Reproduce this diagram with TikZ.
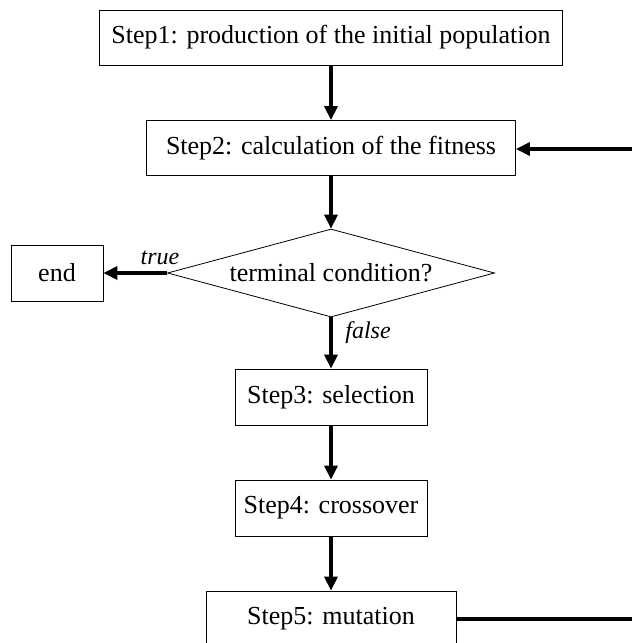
\documentclass[tikz,border=0pt]{standalone}
\usepackage{fontspec}
\setmainfont{Liberation Serif}
\usetikzlibrary{arrows.meta,shapes.geometric}

\tikzset{
  stepbox/.style={draw, line width=0.8pt, rectangle, inner sep=0pt,
    minimum height=55pt, font=\fontsize{26}{30}\selectfont},
  decision/.style={draw, line width=0.8pt, diamond, inner sep=0pt,
    shape aspect=3.7, minimum width=327pt, minimum height=88pt,
    font=\fontsize{26}{30}\selectfont},
  flow/.style={line width=3.8pt, -{Triangle[length=14pt,width=13pt]}},
  plainflow/.style={line width=3.8pt},
  branch/.style={font=\fontsize{24}{28}\selectfont\itshape}
}

\begin{document}
\begin{tikzpicture}[x=1pt, y=-1pt]
  \clip (0,0) rectangle (632,643);

  % process steps, all centred on one vertical axis
  \node[stepbox, minimum width=463pt] (s1) at (331,37.5) {Step1: production of the initial population};
  \node[stepbox, minimum width=369pt] (s2) at (331,148) {Step2: calculation of the fitness};
  \node[decision] (cond) at (331,273) {terminal condition?};
  \node[stepbox, minimum width=92pt, minimum height=56pt] (end) at (57,273) {end};
  \node[stepbox, minimum width=192pt, minimum height=56pt] (s3) at (331,397) {Step3: selection};
  \node[stepbox, minimum width=192pt, minimum height=56pt] (s4) at (331,508) {Step4: crossover};
  \node[stepbox, minimum width=250pt, minimum height=56pt] (s5) at (331,619) {Step5: mutation};

  % loop-back ends at the right border
  \coordinate (loopout) at (640,619);
  \coordinate (loopin) at (640,149);

  % connectors
  \draw[flow] (s1) -- (s2);
  \draw[flow] (s2) -- (cond.north);
  \draw[flow] (cond.west) -- (end.east);
  \draw[flow] (cond.south) -- (s3);
  \draw[flow] (s3) -- (s4);
  \draw[flow] (s4) -- (s5);
  \draw[plainflow] (s5.east) -- (loopout);
  \draw[flow] (loopin) -- (s2.east |- loopin);

  % branch labels
  \node[branch] (tlabel) at (160,258) {true};
  \node[branch] (flabel) at (368,333) {false};
\end{tikzpicture}
\end{document}
